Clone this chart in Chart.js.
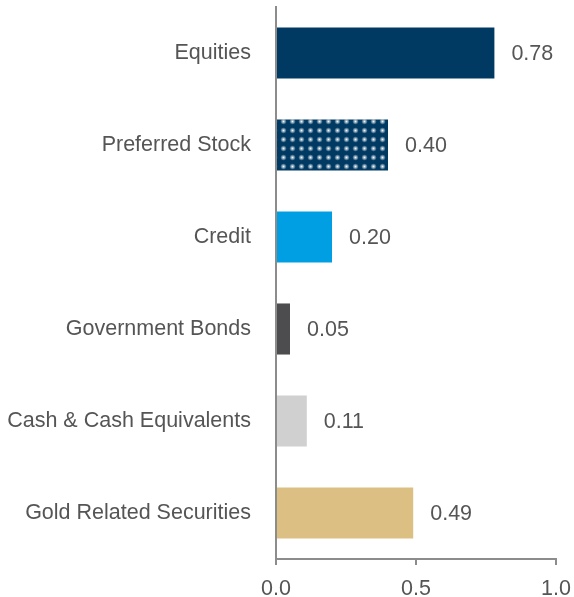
<!DOCTYPE html>
<html lang="en">
<head>
    <meta charset="UTF-8">
    <title>Allocation</title>
    <script src="https://cdn.jsdelivr.net/npm/chart.js"></script>
    <style>
        body { margin: 0; background: #fff; }
        #wrap { width: 574px; height: 597px; }
    </style>
</head>
<body>
    <div id="wrap"><canvas id="chart" width="574" height="597"></canvas></div>
    <script>
        const categories = ['Equities', 'Preferred Stock', 'Credit', 'Government Bonds', 'Cash & Cash Equivalents', 'Gold Related Securities'];
        const values = [0.78, 0.40, 0.20, 0.05, 0.11, 0.49];
        const colors = ['#003a63', '#003a63', '#009fe3', '#4d4d4f', '#d0d0d0', '#dcbf82'];
        const xTicks = [0, 0.5, 1.0];

        const FONT = '"Liberation Sans", Arial, sans-serif';
        const TEXT = '#555555';
        const SIZE = 21.5;

        // dotted fill for the preferred stock bar
        function dotPattern() {
            const c = document.createElement('canvas');
            c.width = 9; c.height = 9;
            const g = c.getContext('2d');
            g.fillStyle = '#003a63';
            g.fillRect(0, 0, 9, 9);
            const grad = g.createRadialGradient(4.5, 4.5, 0, 4.5, 4.5, 3.2);
            grad.addColorStop(0, 'rgba(255,255,255,0.95)');
            grad.addColorStop(0.4, 'rgba(255,255,255,0.6)');
            grad.addColorStop(1, 'rgba(255,255,255,0)');
            g.fillStyle = grad;
            g.fillRect(0, 0, 9, 9);
            return g.createPattern(c, 'repeat');
        }
        const fills = colors.slice();
        fills[1] = dotPattern();

        const valueLabels = {
            id: 'valueLabels',
            afterDatasetsDraw(chart) {
                const ctx = chart.ctx;
                const meta = chart.getDatasetMeta(0);
                ctx.save();
                ctx.font = SIZE + 'px ' + FONT;
                ctx.fillStyle = TEXT;
                ctx.textBaseline = 'middle';
                ctx.textAlign = 'left';
                meta.data.forEach((bar, i) => {
                    ctx.fillText(values[i].toFixed(2), bar.x + 17, bar.y + 1);
                });
                ctx.restore();
            }
        };

        // keep the plot area where the reference has it
        function noPad(scale) {
            scale.paddingTop = 0;
            scale.paddingBottom = 0;
            scale.paddingLeft = 0;
            scale.paddingRight = 0;
        }

        new Chart(document.getElementById('chart'), {
            type: 'bar',
            data: {
                labels: categories,
                datasets: [{
                    data: values,
                    backgroundColor: fills,
                    borderWidth: 0,
                    barPercentage: 0.555,
                    categoryPercentage: 1.0
                }]
            },
            plugins: [valueLabels],
            options: {
                indexAxis: 'y',
                responsive: false,
                animation: false,
                layout: { padding: { top: 7, right: 18, left: 0, bottom: 0 } },
                plugins: { legend: { display: false }, tooltip: { enabled: false } },
                scales: {
                    x: {
                        min: 0,
                        max: 1,
                        afterBuildTicks(axis) { axis.ticks = xTicks.map(v => ({ value: v })); },
                        afterFit(scale) { noPad(scale); scale.height = 38; },
                        grid: { display: true, drawOnChartArea: false, drawTicks: true, tickLength: 6, color: '#8c8c8c', lineWidth: 2 },
                        border: { display: true, color: '#8c8c8c', width: 2 },
                        ticks: {
                            color: TEXT,
                            font: { family: FONT, size: SIZE, lineHeight: 1 },
                            padding: 13,
                            maxRotation: 0,
                            callback: v => Number(v).toFixed(1)
                        }
                    },
                    y: {
                        afterFit(scale) { noPad(scale); scale.width -= 2; },
                        grid: { display: false, drawTicks: false },
                        border: { display: true, color: '#8c8c8c', width: 2 },
                        ticks: {
                            color: TEXT,
                            font: { family: FONT, size: SIZE },
                            padding: 25
                        }
                    }
                }
            }
        });
    </script>
</body>
</html>
